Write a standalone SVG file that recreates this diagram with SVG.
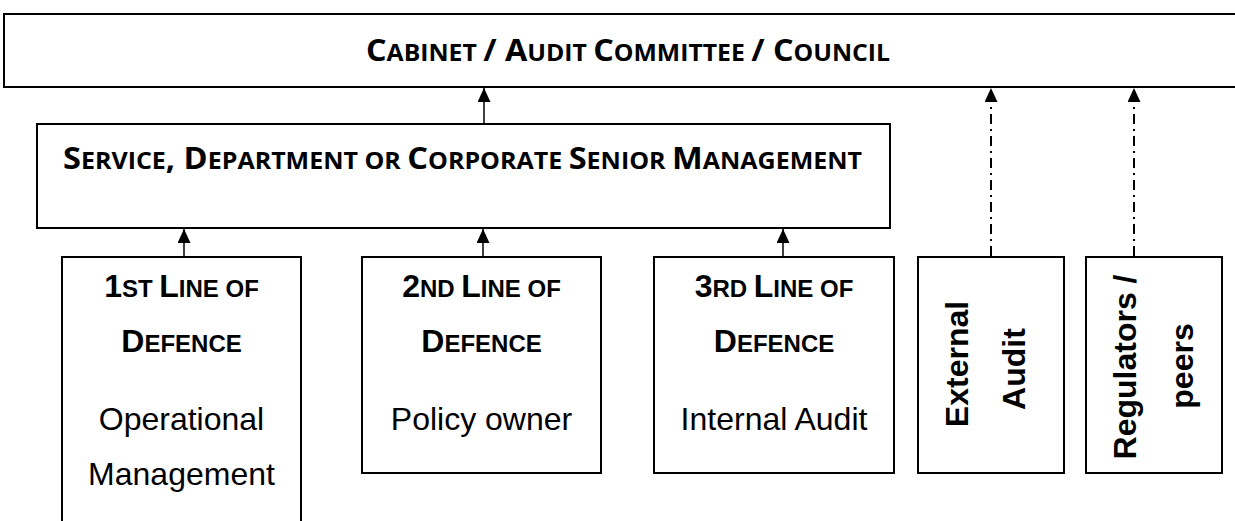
<svg xmlns="http://www.w3.org/2000/svg" width="1235" height="521" viewBox="0 0 1235 521">
<style>
.box{fill:#fff;stroke:#000;stroke-width:2}
.cal{font-family:"Open Sans","Liberation Sans",sans-serif;font-weight:bold;fill:#000}
.ab{font-family:"Liberation Sans",Arial,sans-serif;font-weight:bold;fill:#000}
.ar{font-family:"Liberation Sans",Arial,sans-serif;font-size:32px;fill:#000}
.B{font-size:30px}.s{font-size:23px}
.b2{font-size:32px}.s2{font-size:24px}
.con{stroke:#000;stroke-width:1.5;fill:none}
.dd{stroke:#000;stroke-width:2;fill:none;stroke-dasharray:10 5 2 5}
</style>
<defs>
<marker id="ah" markerUnits="userSpaceOnUse" viewBox="0 0 14 13" refX="14" refY="6.5" markerWidth="14" markerHeight="13" orient="auto">
<path d="M0,0 L14,6.5 L0,13 z" fill="#000"/>
</marker>
</defs>
<g id="cabinet">
<rect class="box" x="4" y="14" width="1245" height="73"/>
<text class="cal" x="366" y="61" textLength="524" lengthAdjust="spacingAndGlyphs"><tspan class="B">C</tspan><tspan class="s">ABINET </tspan><tspan class="B">/ A</tspan><tspan class="s">UDIT </tspan><tspan class="B">C</tspan><tspan class="s">OMMITTEE </tspan><tspan class="B">/ C</tspan><tspan class="s">OUNCIL</tspan></text>
</g>
<g id="senior-management">
<rect class="box" x="37" y="124" width="853" height="104"/>
<text class="cal" x="63" y="169" textLength="799" lengthAdjust="spacingAndGlyphs"><tspan class="B">S</tspan><tspan class="s">ERVICE</tspan><tspan class="B">, D</tspan><tspan class="s">EPARTMENT OR </tspan><tspan class="B">C</tspan><tspan class="s">ORPORATE </tspan><tspan class="B">S</tspan><tspan class="s">ENIOR </tspan><tspan class="B">M</tspan><tspan class="s">ANAGEMENT</tspan></text>
</g>
<g id="line1">
<rect class="box" x="62" y="257" width="239" height="280"/>
<text class="ab" x="181.5" y="297" text-anchor="middle"><tspan class="b2">1</tspan><tspan class="s2">ST </tspan><tspan class="b2">L</tspan><tspan class="s2">INE OF</tspan></text>
<text class="ab" x="181.5" y="352" text-anchor="middle"><tspan class="b2">D</tspan><tspan class="s2">EFENCE</tspan></text>
<text class="ar" x="181.5" y="430" text-anchor="middle">Operational</text>
<text class="ar" x="181.5" y="485" text-anchor="middle">Management</text>
</g>
<g id="line2">
<rect class="box" x="362" y="257" width="239" height="216"/>
<text class="ab" x="481.5" y="297" text-anchor="middle"><tspan class="b2">2</tspan><tspan class="s2">ND </tspan><tspan class="b2">L</tspan><tspan class="s2">INE OF</tspan></text>
<text class="ab" x="481.5" y="352" text-anchor="middle"><tspan class="b2">D</tspan><tspan class="s2">EFENCE</tspan></text>
<text class="ar" x="481.5" y="430" text-anchor="middle">Policy owner</text>
</g>
<g id="line3">
<rect class="box" x="654" y="257" width="240" height="216"/>
<text class="ab" x="774" y="297" text-anchor="middle"><tspan class="b2">3</tspan><tspan class="s2">RD </tspan><tspan class="b2">L</tspan><tspan class="s2">INE OF</tspan></text>
<text class="ab" x="774" y="352" text-anchor="middle"><tspan class="b2">D</tspan><tspan class="s2">EFENCE</tspan></text>
<text class="ar" x="774" y="430" text-anchor="middle">Internal Audit</text>
</g>
<g id="external-audit">
<rect class="box" x="918" y="257" width="146" height="216"/>
<text class="ab b2" transform="translate(968,364) rotate(-90)" text-anchor="middle">External</text>
<text class="ab b2" transform="translate(1025,369) rotate(-90)" text-anchor="middle">Audit</text>
</g>
<g id="regulators">
<rect class="box" x="1086" y="257" width="136" height="216"/>
<text class="ab b2" transform="translate(1136,367) rotate(-90)" text-anchor="middle">Regulators /</text>
<text class="ab b2" transform="translate(1193,366) rotate(-90)" text-anchor="middle">peers</text>
</g>
<g id="connectors">
<line class="con" x1="484" y1="124" x2="484" y2="88" marker-end="url(#ah)"/>
<line class="con" x1="184" y1="257" x2="184" y2="229" marker-end="url(#ah)"/>
<line class="con" x1="483" y1="257" x2="483" y2="229" marker-end="url(#ah)"/>
<line class="con" x1="783" y1="257" x2="783" y2="229" marker-end="url(#ah)"/>
<line class="dd" x1="991" y1="256" x2="991" y2="88" marker-end="url(#ah)"/>
<line class="dd" x1="1134" y1="256" x2="1134" y2="88" marker-end="url(#ah)"/>
</g>
</svg>
